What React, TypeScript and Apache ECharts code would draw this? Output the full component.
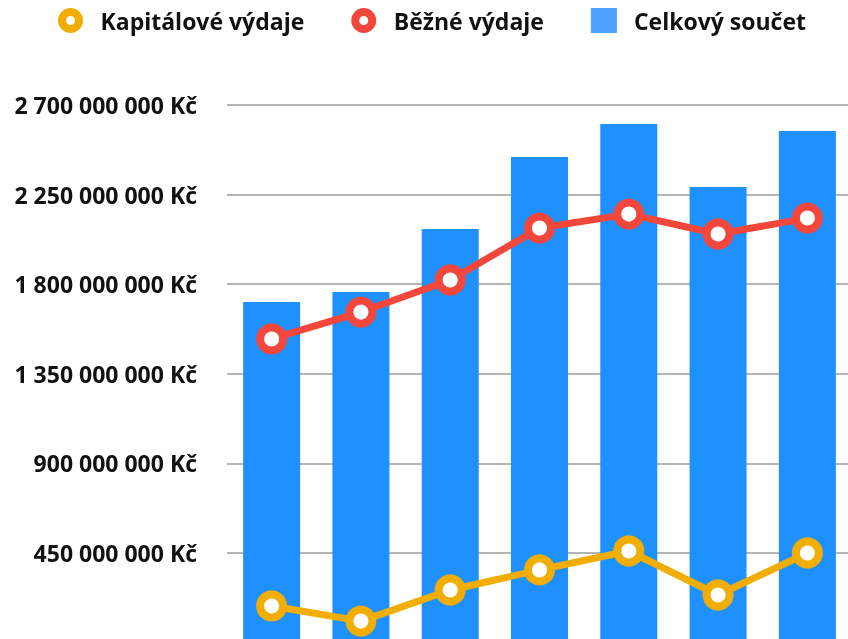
import React, { useEffect, useRef } from "react";
import * as echarts from "echarts";

const categories = ["2016", "2017", "2018", "2019", "2020", "2021", "2022"];
const capitalValues = [184e6, 108e6, 264e6, 365e6, 460e6, 239e6, 450e6];
const currentValues = [1525e6, 1660e6, 1821e6, 2082e6, 2152e6, 2052e6, 2132e6];
const totalValues = [1710e6, 1761e6, 2077e6, 2439e6, 2604e6, 2288e6, 2569e6];
const seriesNames = ["Kapitálové výdaje", "Běžné výdaje", "Celkový součet"];
const yTicks = { min: 0, max: 2700000000, interval: 450000000 };

const ORANGE = "#F2AE00";
const RED = "#F4473B";
const BLUE = "#1E90FF";
const FONT = "'Open Sans', 'Noto Sans', sans-serif";

const RING =
  "path://M12.5,0A12.5,12.5,0,1,1,12.5,25A12.5,12.5,0,1,1,12.5,0ZM12.5,8A4.5,4.5,0,1,0,12.5,17A4.5,4.5,0,1,0,12.5,8Z";

function fmt(v: number): string {
  const s = Math.round(v).toString().replace(/\B(?=(\d{3})+(?!\d))/g, " ");
  return s + " Kč";
}

export default function App() {
  const ref = useRef<HTMLDivElement>(null);
  useEffect(() => {
    if (!ref.current) return;
    const chart = echarts.init(ref.current, undefined, { renderer: "svg" });
    const lineSeries = (name: string, data: number[], color: string) => ({
      name,
      type: "line",
      data,
      z: 3,
      symbol: "circle",
      symbolSize: 23,
      showAllSymbol: true,
      lineStyle: { color, width: 7 },
      itemStyle: { color: "#ffffff", borderColor: color, borderWidth: 8 },
    });
    chart.setOption({
      animation: false,
      textStyle: { fontFamily: FONT },
      legend: {
        left: 58,
        top: 8,
        padding: 0,
        itemWidth: 26,
        itemHeight: 25,
        itemGap: 47,
        selectedMode: false,
        textStyle: {
          fontFamily: FONT,
          fontSize: 23,
          fontWeight: "bold",
          color: "#111111",
          padding: [0, 0, 0, 12],
        },
        data: [
          { name: seriesNames[0], icon: RING, itemStyle: { color: ORANGE, borderWidth: 0 } },
          { name: seriesNames[1], icon: RING, itemStyle: { color: RED, borderWidth: 0 } },
          { name: seriesNames[2], icon: "rect", itemStyle: { color: "#4DA3FF", borderWidth: 0 } },
        ],
      },
      grid: {
        left: 227,
        right: -4,
        top: 105,
        bottom: -3.6,
        containLabel: false,
        outerBoundsMode: "none",
      },
      xAxis: {
        type: "category",
        data: categories,
        axisLine: { show: false },
        axisTick: { show: false },
        axisLabel: { show: false },
      },
      yAxis: {
        type: "value",
        min: yTicks.min,
        max: yTicks.max,
        interval: yTicks.interval,
        axisLine: { show: false },
        axisTick: { show: false },
        splitLine: { lineStyle: { color: "#b5b5b5", width: 2 } },
        axisLabel: {
          margin: 30,
          showMinLabel: false,
          fontFamily: FONT,
          fontSize: 23,
          fontWeight: "bold",
          color: "#111111",
          formatter: (v: number) => fmt(v),
        },
      },
      series: [
        lineSeries(seriesNames[0], capitalValues, ORANGE),
        lineSeries(seriesNames[1], currentValues, RED),
        {
          name: seriesNames[2],
          type: "bar",
          data: totalValues,
          z: 1,
          barWidth: 57,
          itemStyle: { color: BLUE },
        },
      ],
    });
    return () => chart.dispose();
  }, []);
  return (
    <div
      ref={ref}
      style={{ position: "fixed", left: 0, top: 0, width: 848, height: 639 }}
    />
  );
}
